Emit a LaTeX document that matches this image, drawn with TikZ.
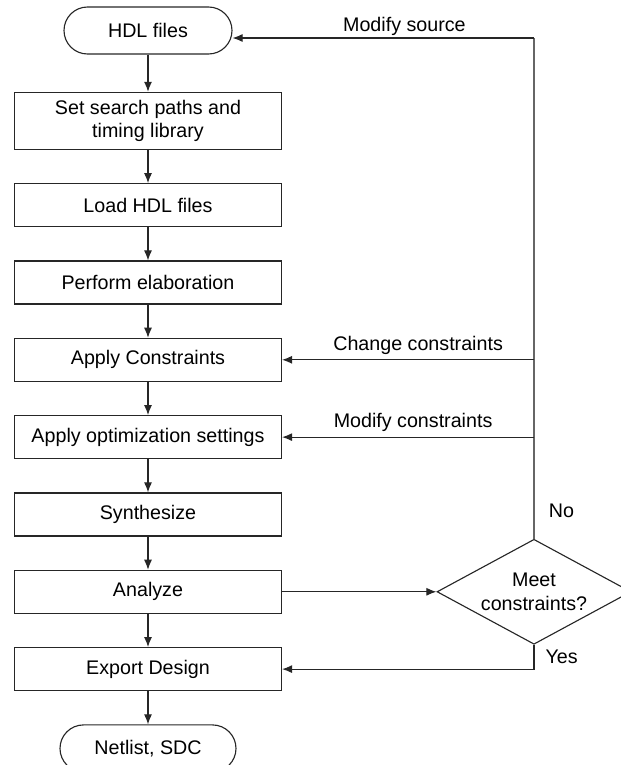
\documentclass[tikz,border=0pt]{standalone}
\usepackage{fontspec}
\setmainfont{Liberation Sans}
\usepackage{tikz}
\usetikzlibrary{arrows.meta,
  shapes.geometric,
  positioning,
  calc}

\begin{document}
\begin{tikzpicture}[node distance=0.83cm, font=\fontsize{14}{16.5}\selectfont]
    % Define styles for nodes and arrows
    \tikzstyle{terminal} = [rectangle, rounded corners=0.5875cm, minimum width=4.2cm, minimum height=1.175cm, text centered, draw=black!85, line width=0.8pt]
    \tikzstyle{process} = [rectangle, minimum width=6.675cm, minimum height=1.075cm, text centered, align=center, draw=black!85, line width=0.8pt]
    \tikzstyle{decision} = [diamond, aspect=1.85, minimum width=4.85cm, minimum height=2.625cm, inner sep=0pt, text centered, align=center, draw=black!85, line width=0.8pt]
    % Arrows with filled heads
    \tikzstyle{arrow} = [line width=0.8pt, draw=black!85, -{Latex[length=2.5mm,width=2mm]}]
    \tikzstyle{line} = [line width=0.8pt, draw=black!60]

    \useasboundingbox (0,0) rectangle (15.525,-19.125);
    % Nodes
    \node (hdl) [terminal] at (3.7,-0.7625) {HDL files};
    \node (paths) [process, minimum height=1.425cm, below=0.93cm of hdl] {Set search paths and\\timing library};
    \node (load) [process, below=of paths] {Load HDL files};
    \node (elab) [process, below=of load] {Perform elaboration};
    \node (applycon) [process, below=of elab] {Apply Constraints};
    \node (applyopt) [process, below=of applycon] {Apply optimization settings};
    \node (synth) [process, below=of applyopt] {Synthesize};
    \node (analyze) [process, below=of synth] {Analyze};
    \node (export) [process, below=of analyze] {Export Design};
    \node (netlist) [terminal, minimum width=4.4cm, below=of export] {Netlist, SDC};
    % Feedback column and decision
    \coordinate (fb) at (13.35,-0.95);
    \node (meet) [decision] at (fb |- analyze) {Meet\\constraints?};

    % Arrows (connections)
    \draw [arrow] (hdl) -- (paths);
    \draw [arrow] (paths) -- (load);
    \draw [arrow] (load) -- (elab);
    \draw [arrow] (elab) -- (applycon);
    \draw [arrow] (applycon) -- (applyopt);
    \draw [arrow] (applyopt) -- (synth);
    \draw [arrow] (synth) -- (analyze);
    \draw [arrow] (analyze) -- (export);
    \draw [arrow] (export) -- (netlist);
    \draw [arrow] (analyze) -- (meet);
    \draw [arrow] (meet.south) |- node[pos=0.25, right, xshift=0.16cm] {Yes} (export.east);
    \draw [line] (meet.north) -- node[pos=0.056, right, xshift=0.24cm] {No} (fb);
    \draw [arrow] (fb) -- node[pos=0.43, above, yshift=-0.08cm] {Modify source} (fb -| hdl.east);
    \draw [arrow] (fb |- applycon) -- node[pos=0.46, above] {Change constraints} (applycon);
    \draw [arrow] (fb |- applyopt) -- node[pos=0.48, above] {Modify constraints} (applyopt);
\end{tikzpicture}
\end{document}
